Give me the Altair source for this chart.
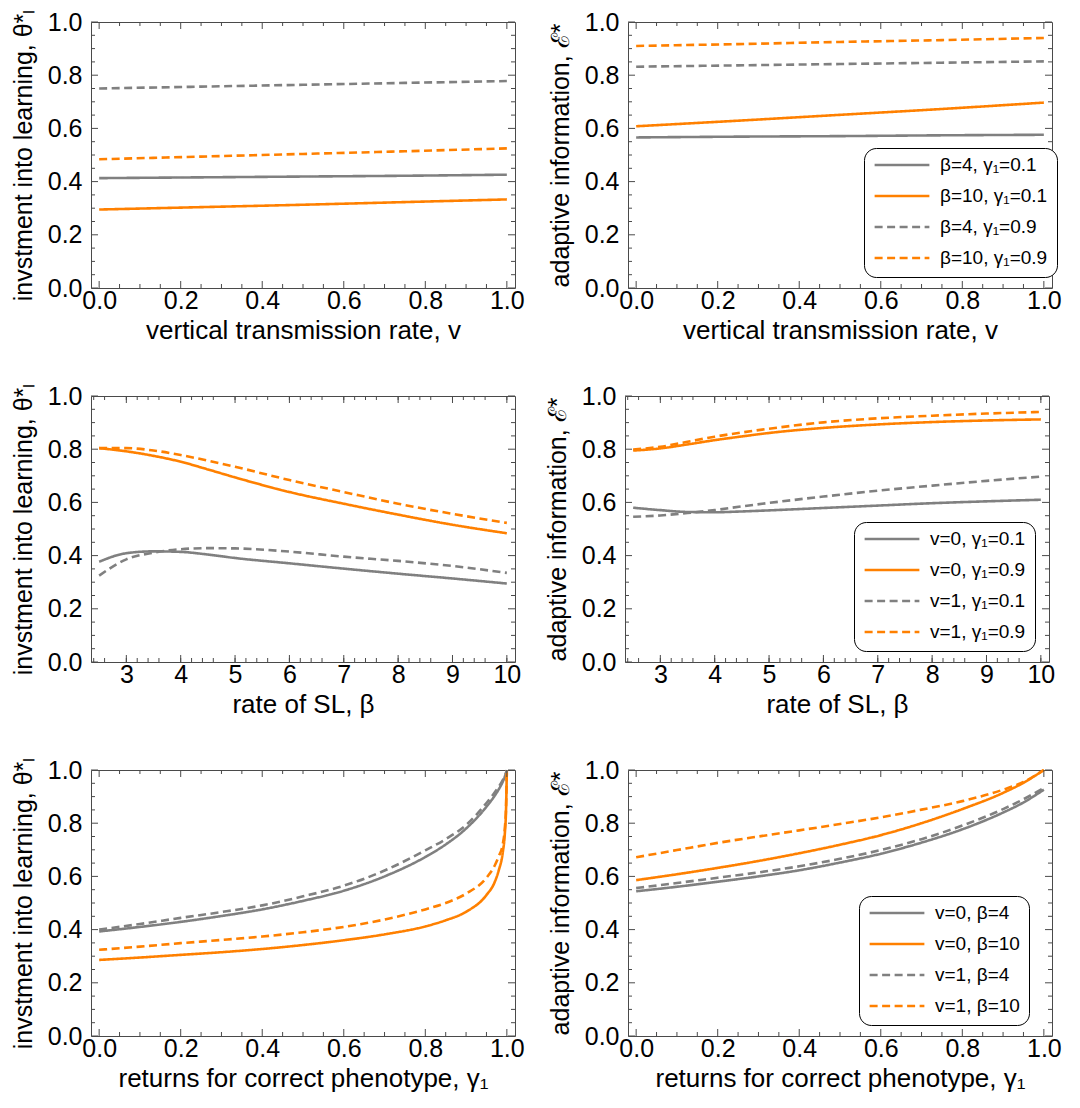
import altair as alt
import pandas as pd

# ---------------- data ----------------
# Panel A: investment into learning vs vertical transmission rate v
v_vals = [0.0, 0.25, 0.5, 0.75, 1.0]
A_b4_g01 = [0.413, 0.416, 0.419, 0.422, 0.426]
A_b10_g01 = [0.295, 0.304, 0.313, 0.323, 0.333]
A_b4_g09 = [0.750, 0.757, 0.764, 0.771, 0.778]
A_b10_g09 = [0.484, 0.494, 0.504, 0.514, 0.525]

# Panel B: adaptive information vs v
B_b4_g01 = [0.566, 0.569, 0.571, 0.574, 0.576]
B_b10_g01 = [0.608, 0.629, 0.651, 0.673, 0.697]
B_b4_g09 = [0.832, 0.837, 0.842, 0.847, 0.852]
B_b10_g09 = [0.910, 0.917, 0.925, 0.932, 0.940]

# Panel C: investment into learning vs beta
beta_vals = [2.5, 3.0, 3.5, 4.0, 4.5, 5.0, 6.0, 7.0, 8.0, 9.0, 10.0]
C_v0_g01 = [0.377, 0.409, 0.416, 0.414, 0.404, 0.391, 0.371, 0.351, 0.332, 0.314, 0.295]
C_v0_g09 = [0.804, 0.792, 0.775, 0.753, 0.724, 0.694, 0.639, 0.595, 0.554, 0.516, 0.484]
C_v1_g01 = [0.325, 0.386, 0.411, 0.424, 0.428, 0.427, 0.415, 0.396, 0.380, 0.361, 0.335]
C_v1_g09 = [0.804, 0.804, 0.795, 0.778, 0.757, 0.734, 0.684, 0.639, 0.595, 0.557, 0.523]

# Panel D: adaptive information vs beta
D_v0_g01 = [0.580, 0.571, 0.564, 0.563, 0.566, 0.570, 0.579, 0.588, 0.597, 0.604, 0.610]
D_v0_g09 = [0.795, 0.803, 0.818, 0.834, 0.848, 0.861, 0.880, 0.893, 0.902, 0.908, 0.912]
D_v1_g01 = [0.546, 0.551, 0.560, 0.571, 0.585, 0.598, 0.622, 0.644, 0.663, 0.681, 0.697]
D_v1_g09 = [0.799, 0.809, 0.828, 0.847, 0.863, 0.877, 0.901, 0.916, 0.926, 0.934, 0.940]

# Panel E: investment into learning vs gamma1
gE_vals = [0.0, 0.1, 0.2, 0.3, 0.4, 0.5, 0.6, 0.7, 0.8, 0.85, 0.9, 0.95, 0.97, 0.98, 0.99, 0.995, 0.998, 1.0]
E_v0_b4 = [0.393, 0.410, 0.429, 0.451, 0.476, 0.508, 0.546, 0.600, 0.673, 0.720, 0.780, 0.862, 0.903, 0.927, 0.956, 0.975, 0.988, 1.0]
E_v0_b10 = [0.286, 0.295, 0.305, 0.315, 0.327, 0.342, 0.360, 0.382, 0.412, 0.435, 0.467, 0.530, 0.578, 0.622, 0.690, 0.760, 0.850, 1.0]
E_v1_b4 = [0.400, 0.421, 0.444, 0.466, 0.491, 0.525, 0.565, 0.622, 0.698, 0.740, 0.793, 0.876, 0.915, 0.937, 0.962, 0.979, 0.990, 1.0]
E_v1_b10 = [0.324, 0.336, 0.349, 0.361, 0.374, 0.390, 0.410, 0.438, 0.476, 0.500, 0.535, 0.595, 0.640, 0.675, 0.722, 0.780, 0.860, 1.0]

# Panel F: adaptive information vs gamma1
gF_vals = [0.0, 0.1, 0.2, 0.3, 0.4, 0.5, 0.6, 0.7, 0.8, 0.9, 0.95, 1.0]
F_v0_b4 = [0.544, 0.561, 0.580, 0.600, 0.623, 0.652, 0.685, 0.727, 0.777, 0.840, 0.878, 0.926]
F_v0_b10 = [0.586, 0.608, 0.632, 0.658, 0.687, 0.719, 0.755, 0.800, 0.853, 0.914, 0.952, 1.0]
F_v1_b4 = [0.556, 0.575, 0.595, 0.615, 0.638, 0.666, 0.699, 0.740, 0.791, 0.853, 0.890, 0.933]
F_v1_b10 = [0.672, 0.699, 0.726, 0.750, 0.773, 0.797, 0.822, 0.851, 0.883, 0.926, 0.955, 1.0]

labels_B = ["β=4, γ₁=0.1", "β=10, γ₁=0.1", "β=4, γ₁=0.9", "β=10, γ₁=0.9"]
labels_D = ["v=0, γ₁=0.1", "v=0, γ₁=0.9", "v=1, γ₁=0.1", "v=1, γ₁=0.9"]
labels_F = ["v=0, β=4", "v=0, β=10", "v=1, β=4", "v=1, β=10"]

unit_major = [0.0, 0.2, 0.4, 0.6, 0.8, 1.0]
unit_minor = [round(i * 0.05, 2) for i in range(21) if i % 4 != 0]
beta_major = [3, 4, 5, 6, 7, 8, 9, 10]
beta_minor = [round(2.4 + i * 0.2, 1) for i in range(39) if (i + 3) % 5 != 0]

# ---------------- style ----------------
W, H = 424, 266
GRAY = "#808080"
ORANGE = "#ff8000"
FRAME = "#4a4a4a"
FONT = "Liberation Sans"
COLORS = [GRAY, ORANGE, GRAY, ORANGE]
DASHES = [[1, 0], [1, 0], [8, 4.5], [8, 4.5]]
MAJ, MIN = 7, 4


def make_df(xs, series_list, names):
    rows = []
    for name, ys in zip(names, series_list):
        for x, y in zip(xs, ys):
            rows.append({"x": x, "y": y, "s": name})
    return pd.DataFrame(rows)


def panel(df, names, xdom, xmaj, xmin, xfmt, xtitle, ytitle, legend_pos=None):
    xs = alt.Scale(domain=xdom, nice=False, zero=False)
    ys = alt.Scale(domain=[0, 1], nice=False)
    xax = alt.Axis(values=xmaj, format=xfmt, title=xtitle)
    yax = alt.Axis(values=unit_major, format=".1f", title=ytitle)
    if legend_pos is None:
        leg = None
    else:
        leg = alt.Legend(
            title=None, orient="none", legendX=legend_pos[0], legendY=legend_pos[1],
            strokeColor="black", fillColor="white", cornerRadius=12, padding=9,
            symbolType="stroke", symbolSize=3000, symbolStrokeWidth=2.5,
            clipHeight=16, rowPadding=12, labelOffset=9,
            labelFont=FONT, labelFontSize=19, labelColor="black", labelLimit=300,
        )
    lines = alt.Chart(df).mark_line(strokeWidth=2.6, interpolate="monotone").encode(
        x=alt.X("x:Q", scale=xs, axis=xax),
        y=alt.Y("y:Q", scale=ys, axis=yax),
        color=alt.Color("s:N", scale=alt.Scale(domain=names, range=COLORS), legend=leg),
        strokeDash=alt.StrokeDash("s:N", scale=alt.Scale(domain=names, range=DASHES), legend=leg),
        detail="s:N",
    )
    layers = [lines]
    for vals, L in ((xmaj, MAJ), (xmin, MIN)):
        d = pd.DataFrame({"x": vals})
        base = alt.Chart(d).mark_rule(color=FRAME, strokeWidth=1)
        layers.append(base.encode(x=alt.X("x:Q", scale=xs, axis=xax),
                                  y=alt.value(H), y2=alt.value(H - L)))
        layers.append(base.encode(x=alt.X("x:Q", scale=xs, axis=xax),
                                  y=alt.value(0), y2=alt.value(L)))
    for vals, L in ((unit_major, MAJ), (unit_minor, MIN)):
        d = pd.DataFrame({"y": vals})
        base = alt.Chart(d).mark_rule(color=FRAME, strokeWidth=1)
        layers.append(base.encode(y=alt.Y("y:Q", scale=ys, axis=yax),
                                  x=alt.value(0), x2=alt.value(L)))
        layers.append(base.encode(y=alt.Y("y:Q", scale=ys, axis=yax),
                                  x=alt.value(W), x2=alt.value(W - L)))
    return alt.layer(*layers).properties(width=W, height=H)


names_A = ["a1", "a2", "a3", "a4"]
names_C = ["c1", "c2", "c3", "c4"]
names_E = ["e1", "e2", "e3", "e4"]

UNIT_DOM = [-0.02, 1.02]
BETA_DOM = [2.35, 10.15]

yL = "invstment into learning, θ*ₗ"
yR = "adaptive information, ℰ*"
xV = "vertical transmission rate, v"
xB = "rate of SL, β"
xG = "returns for correct phenotype, γ₁"

pA = panel(make_df(v_vals, [A_b4_g01, A_b10_g01, A_b4_g09, A_b10_g09], names_A), names_A,
           UNIT_DOM, unit_major, unit_minor, ".1f", xV, yL)
pB = panel(make_df(v_vals, [B_b4_g01, B_b10_g01, B_b4_g09, B_b10_g09], labels_B), labels_B,
           UNIT_DOM, unit_major, unit_minor, ".1f", xV, yR, legend_pos=(236, 126))
pC = panel(make_df(beta_vals, [C_v0_g01, C_v0_g09, C_v1_g01, C_v1_g09], names_C), names_C,
           BETA_DOM, beta_major, beta_minor, "d", xB, yL)
pD = panel(make_df(beta_vals, [D_v0_g01, D_v0_g09, D_v1_g01, D_v1_g09], labels_D), labels_D,
           BETA_DOM, beta_major, beta_minor, "d", xB, yR, legend_pos=(229, 126))
pE = panel(make_df(gE_vals, [E_v0_b4, E_v0_b10, E_v1_b4, E_v1_b10], names_E), names_E,
           UNIT_DOM, unit_major, unit_minor, ".1f", xG, yL)
pF = panel(make_df(gF_vals, [F_v0_b4, F_v0_b10, F_v1_b4, F_v1_b10], labels_F), labels_F,
           UNIT_DOM, unit_major, unit_minor, ".1f", xG, yR, legend_pos=(231, 126))

row1 = alt.hconcat(pA, pB, spacing=22).resolve_scale(color="independent", strokeDash="independent")
row2 = alt.hconcat(pC, pD, spacing=22).resolve_scale(color="independent", strokeDash="independent")
row3 = alt.hconcat(pE, pF, spacing=22).resolve_scale(color="independent", strokeDash="independent")

chart = alt.vconcat(row1, row2, row3, spacing=38).resolve_scale(
    color="independent", strokeDash="independent"
).properties(
    padding={"left": 2, "top": 0, "right": 5, "bottom": 0}
).configure_view(
    stroke=FRAME, strokeWidth=1
).configure_axis(
    domain=False, ticks=False, grid=False,
    labelFont=FONT, labelFontSize=25, labelColor="black", labelFlush=False,
    labelOverlap=False, labelBound=False,
    titleFont=FONT, titleFontWeight="normal", titleColor="black",
).configure_axisX(
    labelPadding=0, titlePadding=4, titleFontSize=26,
).configure_axisY(
    labelPadding=9, titlePadding=11, titleFontSize=25,
)

chart.save("out.html", embed_options={"renderer": "svg", "actions": False})
